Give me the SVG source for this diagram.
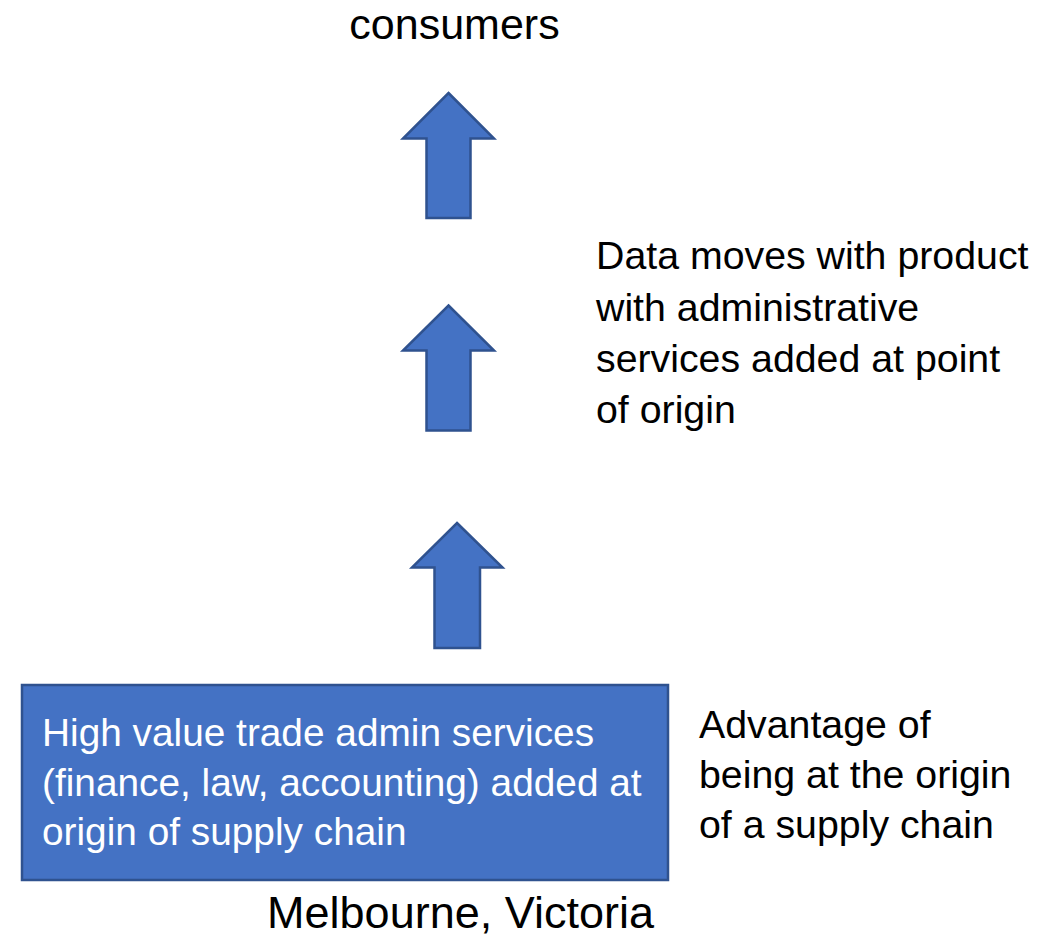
<svg xmlns="http://www.w3.org/2000/svg" width="1061" height="937" viewBox="0 0 1061 937">
  <style>
    .lbl { font-family: "Liberation Sans", Arial, sans-serif; fill: #000000; }
    .inner { font-family: "Liberation Sans", Arial, sans-serif; fill: #ffffff; }
    .shape { fill: #4472C4; stroke: #2F528F; stroke-width: 2.5; stroke-linejoin: miter; }
  </style>
  <rect width="1061" height="937" fill="#ffffff"/>

  <!-- top label -->
  <g id="consumers">
    <text class="lbl" x="454.5" y="39" font-size="43" text-anchor="middle">consumers</text>
  </g>

  <!-- block arrows pointing upward -->
  <g id="connectors">
    <polygon class="shape" points="448.5,93 494,138.5 470.5,138.5 470.5,218 426.5,218 426.5,138.5 403,138.5"/>
    <polygon class="shape" points="448.5,305.5 494,350.5 470.5,350.5 470.5,430.5 426.5,430.5 426.5,350.5 403,350.5"/>
    <polygon class="shape" points="457,523 502.5,567.5 480,567.5 480,648 434.5,648 434.5,567.5 412,567.5"/>
  </g>

  <!-- note beside the arrows -->
  <g id="data-note">
    <text class="lbl" font-size="39.3">
      <tspan x="596" y="269">Data moves with product</tspan>
      <tspan x="596" y="320.5">with administrative</tspan>
      <tspan x="596" y="372">services added at point</tspan>
      <tspan x="596" y="423">of origin</tspan>
    </text>
  </g>

  <!-- origin box -->
  <g id="origin-box">
    <rect class="shape" x="22" y="685" width="646" height="195"/>
    <text class="inner" font-size="38.8">
      <tspan x="42" y="746">High value trade admin services</tspan>
      <tspan x="42" y="795.5">(finance, law, accounting) added at</tspan>
      <tspan x="42" y="845">origin of supply chain</tspan>
    </text>
  </g>

  <!-- note beside the box -->
  <g id="advantage-note">
    <text class="lbl" font-size="39.3">
      <tspan x="699" y="738">Advantage of</tspan>
      <tspan x="699" y="788">being at the origin</tspan>
      <tspan x="699" y="838">of a supply chain</tspan>
    </text>
  </g>

  <!-- bottom label -->
  <g id="location">
    <text class="lbl" x="460.5" y="928" font-size="45" text-anchor="middle">Melbourne, Victoria</text>
  </g>
</svg>
